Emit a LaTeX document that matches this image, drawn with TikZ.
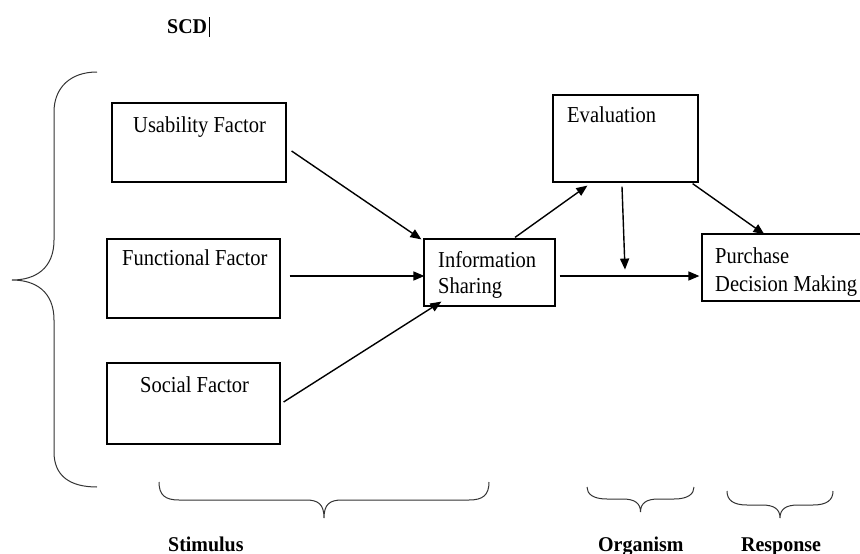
\documentclass[tikz,border=0pt]{standalone}
\usepackage{fontspec}
\setmainfont{Liberation Serif}
\usetikzlibrary{arrows.meta,calc}
\newcommand\sqz[1]{\scalebox{0.9}[1]{#1}}
\newcommand\sqb[1]{\scalebox{0.95}[1]{#1}}
\tikzset{
  box/.style={draw, line width=1.2pt, rectangle, inner sep=0pt},
  lbl/.style={anchor=base west, inner sep=0pt, font=\fontsize{22.8}{27}\selectfont},
  blbl/.style={anchor=base west, inner sep=0pt, font=\fontsize{21}{25}\selectfont\bfseries},
  arr/.style={line width=1.4pt, -{Triangle[length=11pt,width=9pt]}},
  brc/.style={line width=1pt, draw=black!80}
}
\newcommand\mybrace[5]{%
  \draw[brc] (#1,#3) .. controls (#1,#4-5) and (#1+6,#4) .. (#1+20,#4)
    -- ({(#1+#2)/2-18},#4) .. controls ({(#1+#2)/2-6},#4) and ({(#1+#2)/2},#4+4) .. ({(#1+#2)/2},#5)
    .. controls ({(#1+#2)/2},#4+4) and ({(#1+#2)/2+6},#4) .. ({(#1+#2)/2+18},#4)
    -- (#2-20,#4) .. controls (#2-6,#4) and (#2,#4-5) .. (#2,#3);}
\begin{document}
\begin{tikzpicture}[x=1pt,y=-1pt]
\useasboundingbox (0,0) rectangle (860,554);
\clip (0,0) rectangle (860,554);
\fill[white] (0,0) rectangle (860,554);

% title
\node[blbl] (scd) at (167,33) {\sqb{SCD}};
\draw[line width=0.8pt] (209,17) -- (209,37);

% boxes
\node[box, minimum width=174pt, minimum height=79pt] (usab) at (199,142.5) {};
\node[box, minimum width=173pt, minimum height=79pt] (func) at (193.5,278.5) {};
\node[box, minimum width=173pt, minimum height=81pt] (soc) at (193.5,403.5) {};
\node[box, minimum width=131pt, minimum height=67pt] (info) at (489.5,272.5) {};
\node[box, minimum width=145pt, minimum height=87pt] (eval) at (625.5,138.5) {};
\node[box, minimum width=178pt, minimum height=67pt] (purch) at (791,267.5) {};

% texts
\node[lbl] (tusab) at (133,132) {\sqz{Usability Factor}};
\node[lbl] (tfunc) at (122,265) {\sqz{Functional Factor}};
\node[lbl] (tsoc) at (140,392) {\sqz{Social Factor}};
\node[lbl] (tinfo1) at (438,267) {\sqz{Information}};
\node[lbl] (tinfo2) at (438,293) {\sqz{Sharing}};
\node[lbl] (teval) at (567,122) {\sqz{Evaluation}};
\node[lbl] (tpur1) at (715,263) {\sqz{Purchase}};
\node[lbl] (tpur2) at (715,291) {\sqz{Decision Making}};

% arrows
\draw[arr] ($(usab.east)+(5,8.5)$) -- ($(info.north west)+(-2,1)$);
\draw[arr] ($(func.east)+(9,-2.5)$) -- ($(info.west)+(1,3.5)$);
\draw[arr] ($(soc.east)+(3,-1.5)$) -- ($(info.south west)+(18,-5)$);
\draw[arr] ($(info.north)+(25.5,-1)$) -- ($(eval.south west)+(35,3)$);
\draw[arr] ($(eval.south)+(-3.5,4)$) -- ($(eval.south)+(-0.5,87)$);
\draw[arr] ($(eval.south east)+(-6,1)$) -- ($(purch.north west)+(63,1)$);
\draw[arr] ($(info.east)+(4,3.5)$) -- ($(purch.west)+(-2,8.5)$);

% big left brace
\draw[brc] (97,72) .. controls (70,72) and (54,88) .. (54,112)
  -- (54,240) .. controls (54,268) and (36,280) .. (12,280)
  .. controls (36,280) and (54,292) .. (54,320)
  -- (54,452) .. controls (54,476) and (70,487) .. (97,487);

% bottom braces
\mybrace{159}{489}{482}{500}{518}
\mybrace{587}{694}{487}{499}{512}
\mybrace{727}{833}{491}{505}{518}

\node[blbl] (stim) at (168,551) {\sqb{Stimulus}};
\node[blbl] (org) at (598,551) {\sqb{Organism}};
\node[blbl] (resp) at (741,551) {\sqb{Response}};
\end{tikzpicture}
\end{document}
